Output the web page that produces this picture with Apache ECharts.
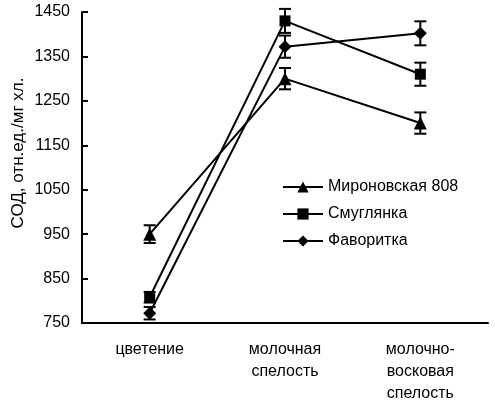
<!DOCTYPE html>
<html>
<head>
<meta charset="utf-8">
<script src="https://cdn.jsdelivr.net/npm/echarts@6/dist/echarts.min.js"></script>
<style>
  html, body { margin: 0; padding: 0; background: #fff; }
  #chart { width: 495px; height: 400px; }
</style>
</head>
<body>
<div id="chart"></div>
<script>
// Growth stages (x axis)
const stages = ['цветение', 'молочная\nспелость', 'молочно-\nвосковая\nспелость'];

// Cultivar names
const names = ['Мироновская 808', 'Смуглянка', 'Фаворитка'];

// SOD activity, rel. units / mg chlorophyll
const mironovskaya = [950, 1300, 1200];
const smuglyanka   = [808, 1430, 1310];
const favoritka    = [772, 1372, 1402];

// Standard errors
const mironovskayaErr = [20, 24, 24];
const smuglyankaErr   = [12, 27, 26];
const favoritkaErr    = [14, 25, 27];

// Y axis range
const yMin = 750, yMax = 1450, yStep = 100;

const FONT = 'Liberation Sans, Arial, sans-serif';

const chart = echarts.init(document.getElementById('chart'));

function errorSeries(name, values, errs) {
  return {
    type: 'custom',
    name: name + ' err',
    z: 3,
    silent: true,
    data: values.map((v, i) => [i, v - errs[i], v + errs[i]]),
    renderItem: function (params, api) {
      const lo = api.coord([api.value(0), api.value(1)]);
      const hi = api.coord([api.value(0), api.value(2)]);
      const x = lo[0], hw = 6;
      const style = { stroke: '#000', lineWidth: 2, fill: null };
      return {
        type: 'group',
        children: [
          { type: 'line', shape: { x1: x, y1: lo[1], x2: x, y2: hi[1] }, style: style },
          { type: 'line', shape: { x1: x - hw, y1: lo[1], x2: x + hw, y2: lo[1] }, style: style },
          { type: 'line', shape: { x1: x - hw, y1: hi[1], x2: x + hw, y2: hi[1] }, style: style }
        ]
      };
    }
  };
}

function lineSeries(name, values, symbol, size) {
  return {
    type: 'line',
    name: name,
    data: values,
    symbol: symbol,
    symbolSize: size,
    showAllSymbol: true,
    z: 4,
    lineStyle: { color: '#000', width: 2 },
    itemStyle: { color: '#000', borderColor: '#000', borderWidth: 0 },
    emphasis: { disabled: true }
  };
}

chart.setOption({
  animation: false,
  backgroundColor: '#fff',
  grid: { left: 82, right: 7, top: 12, bottom: 77, containLabel: false, outerBoundsMode: 'none' },
  legend: {
    data: names,
    orient: 'vertical',
    left: 277,
    top: 174,
    itemWidth: 40,
    itemHeight: 14,
    itemGap: 11,
    textStyle: { color: '#000', fontSize: 16, fontFamily: FONT },
    inactiveColor: '#000'
  },
  xAxis: {
    type: 'category',
    data: stages,
    boundaryGap: true,
    axisLine: { lineStyle: { color: '#000', width: 2 } },
    axisTick: { inside: true, length: 5, lineStyle: { color: '#000', width: 2 } },
    axisLabel: {
      color: '#000', fontSize: 16, fontFamily: FONT, margin: 16,
      lineHeight: 22, interval: 0
    },
    splitLine: { show: false }
  },
  yAxis: {
    type: 'value',
    min: yMin,
    max: yMax,
    interval: yStep,
    axisLine: { show: true, lineStyle: { color: '#000', width: 2 } },
    axisTick: { show: true, inside: true, length: 6, lineStyle: { color: '#000', width: 2 } },
    axisLabel: {
      color: '#000', fontSize: 16, fontFamily: FONT, margin: 12,
      formatter: v => String(v)
    },
    splitLine: { show: false }
  },
  graphic: [{
    type: 'text',
    x: 18,
    y: 153,
    rotation: Math.PI / 2,
    style: {
      text: 'СОД, отн.ед./мг хл.',
      fill: '#000',
      font: '17px ' + FONT,
      textAlign: 'center',
      textVerticalAlign: 'middle'
    }
  }],
  series: [
    errorSeries(names[0], mironovskaya, mironovskayaErr),
    errorSeries(names[1], smuglyanka, smuglyankaErr),
    errorSeries(names[2], favoritka, favoritkaErr),
    lineSeries(names[0], mironovskaya, 'triangle', 13),
    lineSeries(names[1], smuglyanka, 'rect', 11),
    lineSeries(names[2], favoritka, 'diamond', 13)
  ]
});
</script>
</body>
</html>
